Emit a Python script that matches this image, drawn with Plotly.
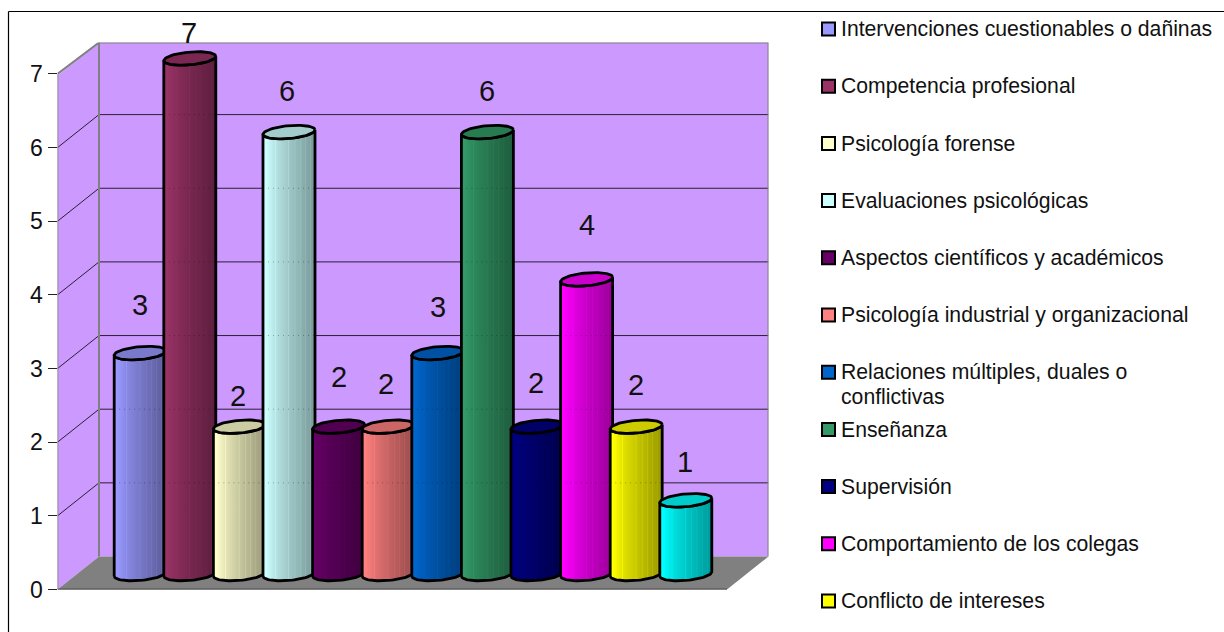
import numpy as np
import plotly.graph_objects as go

# Survey results: number of cases per ethics topic
categories = [
    "Intervenciones cuestionables o dañinas",
    "Competencia profesional",
    "Psicología forense",
    "Evaluaciones psicológicas",
    "Aspectos científicos y académicos",
    "Psicología industrial y organizacional",
    "Relaciones múltiples, duales o",
    "Enseñanza",
    "Supervisión",
    "Comportamiento de los colegas",
    "Conflicto de intereses",
]
wrapped_line = "conflictivas"
wrapped_row = 6
values = [3, 7, 2, 6, 2, 2, 3, 6, 2, 4, 2, 1]
colors = ["#9999FF", "#993366", "#FFFFCC", "#CCFFFF", "#660066", "#FF8080",
          "#0066CC", "#339966", "#000080", "#FF00FF", "#FFFF00", "#00FFFF"]
y_ticks = [0, 1, 2, 3, 4, 5, 6, 7]

# Hand-placed value labels: pixel offsets from the top of each cylinder
label_lift = [48, 25, 31, 41, 50, 43, 46, 41, 44, 54, 42, 38]
label_nudge = [0, -1, -1.7, -2, 0, -2.5, 0, -0.7, -1, 0, 0, -1]

# Page and plot geometry (pixels)
W, H = 1224, 632
LEFT, RIGHT, TOP, BOTTOM = 57.5, 768.5, 42.5, 589.5
PX_X = 49.6          # pixels per category step
PX_Y = 73.65         # pixels per unit of value
DEPTH_X = 41.5 / PX_X
DEPTH_Y = 33.0 / PX_Y
X_MAX = (RIGHT - LEFT) / PX_X
Y_MAX = (BOTTOM - TOP) / PX_Y
FLOOR_W = X_MAX - DEPTH_X
FIRST = (FLOOR_W - (len(values) - 1)) / 2 + DEPTH_X / 2
BASE_Y = 15.5 / PX_Y
RADIUS = 26.0 / PX_X
MINOR = 6.4 / PX_Y
SHEAR = 2.2 / PX_Y

WALL = "#CC99FF"
EDGE = "#808080"
FONT = "Liberation Sans"


def scale(hex_color, f):
    r, g, b = (int(hex_color[i:i + 2], 16) for i in (1, 3, 5))
    return f"rgb({int(r * f)},{int(g * f)},{int(b * f)})"


# Shading across a cylinder: bright on the left, darker to the right, with fine facets
SHADE_STOPS = [0.0, 0.03, 0.06, 0.22, 0.235, 0.25, 0.36, 0.48, 0.495, 0.51, 0.60, 0.615, 0.63,
               0.70, 0.715, 0.73, 0.80, 0.815, 0.83, 0.90, 0.915, 0.93, 1.0]
SHADE_VALS = [0.98, 1.0, 1.0, 0.90, 0.97, 0.89, 0.84, 0.79, 0.86, 0.78, 0.74, 0.80, 0.73,
              0.71, 0.76, 0.70, 0.67, 0.72, 0.66, 0.64, 0.68, 0.62, 0.60]


def gradient(color):
    return [[p, scale(color, v)] for p, v in zip(SHADE_STOPS, SHADE_VALS)]


def rim(cx, cy, t):
    return cx + RADIUS * np.cos(t), cy + MINOR * np.sin(t) + SHEAR * np.cos(t)


fig = go.Figure()


def poly(xs, ys, fill, line_color=None, width=0):
    fig.add_trace(go.Scatter(
        x=list(xs), y=list(ys), mode="lines", fill="toself", fillcolor=fill,
        line=dict(color=line_color or "rgba(0,0,0,0)", width=width),
        hoverinfo="skip", showlegend=False, cliponaxis=False,
    ))


def seg(xs, ys, color, width, dash="solid"):
    fig.add_trace(go.Scatter(
        x=list(xs), y=list(ys), mode="lines", line=dict(color=color, width=width, dash=dash),
        hoverinfo="skip", showlegend=False, cliponaxis=False,
    ))


# Chart walls and floor
poly([0, DEPTH_X, DEPTH_X, 0], [0, DEPTH_Y, Y_MAX, Y_MAX - DEPTH_Y], WALL)
poly([DEPTH_X, X_MAX, X_MAX, DEPTH_X], [DEPTH_Y, DEPTH_Y, Y_MAX, Y_MAX], WALL)
poly([0, FLOOR_W, X_MAX, DEPTH_X], [0, 0, DEPTH_Y, DEPTH_Y], EDGE)

# Gridlines on the side and back walls
for k in y_ticks[1:-1]:
    seg([0, DEPTH_X, X_MAX], [k, k + DEPTH_Y, k + DEPTH_Y], "#2a2030", 1)

# Wall outlines
seg([DEPTH_X, DEPTH_X], [DEPTH_Y, Y_MAX], EDGE, 2)
seg([0, 0], [0, y_ticks[-1]], EDGE, 1.6)
seg([0, DEPTH_X, X_MAX, X_MAX], [y_ticks[-1], Y_MAX, Y_MAX, DEPTH_Y], EDGE, 2)
seg([0, FLOOR_W], [0, 0], "#222222", 1.4)

# One cylinder per topic, drawn left to right so each overlaps the previous one
for i, (v, c) in enumerate(zip(values, colors)):
    cx = FIRST + i
    t_low = np.linspace(np.pi, 0, 40)      # front of the base rim, left to right
    t_back = np.linspace(0, np.pi, 40)     # front of the top rim, right to left
    bx, by = rim(cx, BASE_Y, -t_low)
    tx, ty = rim(cx, v + BASE_Y, -t_back)
    fig.add_trace(go.Scatter(
        x=np.r_[bx, tx, bx[0]], y=np.r_[by, ty, by[0]], mode="lines", fill="toself",
        fillgradient=dict(type="horizontal", colorscale=gradient(c)),
        line=dict(color="black", width=2.8), hoverinfo="skip", showlegend=False, cliponaxis=False,
    ))
    t = np.linspace(0, 2 * np.pi, 80)
    ex, ey = rim(cx, v + BASE_Y, t)
    poly(ex, ey, scale(c, 0.8), "black", 2.8)
    # The gridlines show faintly through the cylinder body
    for k in y_ticks[1:-1]:
        if k + DEPTH_Y < v + BASE_Y - MINOR:
            seg([cx - RADIUS, cx + RADIUS], [k + DEPTH_Y, k + DEPTH_Y], "rgba(0,0,0,0.3)", 1, "1px,4px")

# Value labels
annotations = [
    dict(x=FIRST + i, y=v + BASE_Y, text=str(v), showarrow=False, xref="x", yref="y",
         yshift=label_lift[i], xshift=label_nudge[i], yanchor="middle", xanchor="center",
         font=dict(family=FONT, size=29, color="#111111"))
    for i, v in enumerate(values)
]

# Legend column, laid out on its own axes in row units
rows = list(range(len(categories)))
fig.add_trace(go.Scatter(
    x=[828.5] * len(rows), y=rows, xaxis="x2", yaxis="y2", mode="markers",
    marker=dict(symbol="square", size=13, color=colors[:len(rows)], line=dict(color="black", width=2)),
    hoverinfo="skip", showlegend=False, cliponaxis=False,
))
text_rows = [r + 0.035 for r in rows] + [wrapped_row + 0.46]
fig.add_trace(go.Scatter(
    x=[841] * (len(rows) + 1), y=text_rows, xaxis="x2", yaxis="y2", mode="text",
    text=categories + [wrapped_line], textposition="middle right",
    textfont=dict(family=FONT, size=21.2, color="#111111"),
    hoverinfo="skip", showlegend=False, cliponaxis=False,
))

fig.update_layout(
    width=W, height=H, autosize=False, margin=dict(l=0, r=0, t=0, b=0, autoexpand=False),
    paper_bgcolor="white", plot_bgcolor="rgba(0,0,0,0)", showlegend=False,
    annotations=annotations,
    xaxis=dict(domain=[LEFT / W, RIGHT / W], range=[0, X_MAX], visible=False, fixedrange=True),
    yaxis=dict(domain=[(H - BOTTOM) / H, (H - TOP) / H], range=[0, Y_MAX], tickmode="array", tickvals=y_ticks,
               showgrid=False, zeroline=False, showline=False, ticks="outside", ticklen=9, tickwidth=1.2,
               tickcolor="#222222", tickfont=dict(family=FONT, size=23, color="#111111"), fixedrange=True),
    xaxis2=dict(domain=[790 / W, 1], range=[790, W], visible=False, anchor="y2", fixedrange=True),
    yaxis2=dict(domain=[0, 1], range=[(H - 29) / 57.2, -29 / 57.2], visible=False, anchor="x2", fixedrange=True),
    shapes=[
        dict(type="line", xref="paper", yref="paper", x0=8.5 / W, x1=1, y0=(H - 11.5) / H, y1=(H - 11.5) / H,
             line=dict(color="black", width=1.2)),
        dict(type="line", xref="paper", yref="paper", x0=8.5 / W, x1=8.5 / W, y0=0, y1=(H - 11.5) / H,
             line=dict(color="black", width=1.2)),
    ],
)

fig.write_html("out.html", config=dict(displayModeBar=False, responsive=False))
